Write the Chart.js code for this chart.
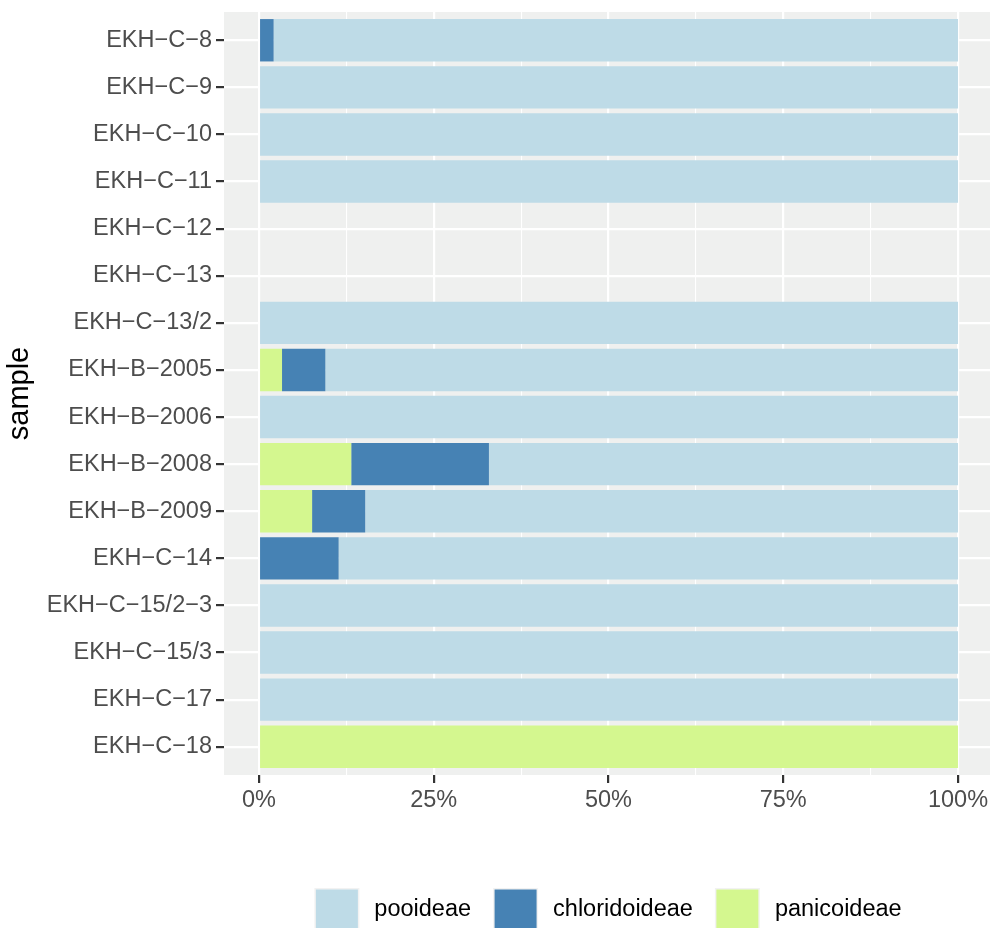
<!DOCTYPE html>
<html>
<head>
<meta charset="utf-8">
<script src="https://cdn.jsdelivr.net/npm/chart.js@4"></script>
<style>
  html, body { margin: 0; padding: 0; background: #fff; overflow: hidden; }
  #wrap { width: 990px; height: 928px; }
</style>
</head>
<body>
<div id="wrap"><canvas id="chart" width="990" height="928"></canvas></div>
<script>
// --- Data (top to bottom) ---
const samples = [
  'EKH−C−8', 'EKH−C−9', 'EKH−C−10', 'EKH−C−11', 'EKH−C−12', 'EKH−C−13',
  'EKH−C−13/2', 'EKH−B−2005', 'EKH−B−2006', 'EKH−B−2008', 'EKH−B−2009',
  'EKH−C−14', 'EKH−C−15/2−3', 'EKH−C−15/3', 'EKH−C−17', 'EKH−C−18'
];
const panicoideae   = [0, 0, 0, 0, 0, 0, 0, 3.3, 0, 13.2, 7.6, 0, 0, 0, 0, 100];
const chloridoideae = [2.1, 0, 0, 0, 0, 0, 0, 6.2, 0, 19.7, 7.6, 11.4, 0, 0, 0, 0];
const pooideae      = [97.9, 100, 100, 100, 0, 0, 100, 90.5, 100, 67.1, 84.8, 88.6, 100, 100, 100, 0];
const xTicks = [0, 12.5, 25, 37.5, 50, 62.5, 75, 87.5, 100];

const FONT = '"Liberation Sans", Arial, Helvetica, sans-serif';

function toPoints(values) {
  return values.map((v, i) => ({ x: v, y: i }));
}

// Panel background like ggplot
const panelBg = {
  id: 'panelBg',
  beforeDraw(chart) {
    const { ctx, chartArea: a } = chart;
    ctx.save();
    ctx.fillStyle = '#eff0ef';
    ctx.fillRect(a.left, a.top, a.right - a.left, a.bottom - a.top);
    ctx.restore();
  }
};

// Legend drawn at the bottom, reversed order like the reference
const bottomLegend = {
  id: 'bottomLegend',
  afterDraw(chart) {
    const ctx = chart.ctx;
    const items = chart.data.datasets.slice().reverse();
    const key = 45, gap = 15, spacing = 22;
    ctx.save();
    ctx.font = '23.5px ' + FONT;
    const widths = items.map(d => ctx.measureText(d.label).width);
    const total = widths.reduce((s, w) => s + key + gap + w, 0) + spacing * (items.length - 1);
    let x = 608 - total / 2;
    const top = 888;
    items.forEach((d, i) => {
      ctx.fillStyle = '#f2f2f2';
      ctx.fillRect(x, top, key, key);
      ctx.fillStyle = d.backgroundColor;
      ctx.fillRect(x + 1.5, top + 1.5, key - 3, key - 3);
      ctx.fillStyle = '#000';
      ctx.textBaseline = 'middle';
      ctx.textAlign = 'left';
      ctx.fillText(d.label, x + key + gap, top + 22);
      x += key + gap + widths[i] + spacing;
    });
    ctx.restore();
  }
};

new Chart(document.getElementById('chart').getContext('2d'), {
  type: 'bar',
  data: {
    datasets: [
      { label: 'panicoideae', data: toPoints(panicoideae), backgroundColor: '#d4f78f' },
      { label: 'chloridoideae', data: toPoints(chloridoideae), backgroundColor: '#4682b4' },
      { label: 'pooideae', data: toPoints(pooideae), backgroundColor: '#bedbe7' }
    ]
  },
  options: {
    indexAxis: 'y',
    responsive: false,
    animation: false,
    events: [],
    layout: { padding: { top: 12, right: 0, left: 0, bottom: 0 } },
    datasets: { bar: { categoryPercentage: 1, barPercentage: 0.9, borderWidth: 0 } },
    plugins: { legend: { display: false }, tooltip: { enabled: false } },
    scales: {
      x: {
        type: 'linear',
        stacked: true,
        min: -5,
        max: 104.58,
        afterBuildTicks: scale => { scale.ticks = xTicks.map(v => ({ value: v })); },
        afterFit: scale => { scale.height = 153; scale.paddingLeft = 0; scale.paddingRight = 0; },
        border: { display: false },
        grid: {
          color: '#ffffff',
          lineWidth: ctx => (ctx.tick && ctx.tick.value % 25 === 0 ? 2.2 : 1.1),
          tickColor: ctx => (ctx.tick && ctx.tick.value % 25 === 0 ? '#333333' : 'rgba(0,0,0,0)'),
          tickLength: 8,
          tickWidth: 2.2
        },
        ticks: {
          autoSkip: false,
          maxRotation: 0,
          padding: 3,
          color: '#4d4d4d',
          font: { family: FONT, size: 23.5 },
          callback: v => (v % 25 === 0 ? v + '%' : '')
        }
      },
      y: {
        type: 'linear',
        stacked: true,
        reverse: true,
        offset: false,
        min: -0.6,
        max: 15.6,
        afterBuildTicks: scale => { scale.ticks = samples.map((s, i) => ({ value: i })); },
        afterFit: scale => { scale.width = 224; scale.paddingTop = 0; scale.paddingBottom = 0; },
        border: { display: false },
        grid: {
          offset: false,
          color: '#ffffff',
          lineWidth: 2.2,
          tickColor: '#333333',
          tickLength: 8,
          tickWidth: 2.2
        },
        ticks: {
          autoSkip: false,
          padding: 4,
          color: '#4d4d4d',
          font: { family: FONT, size: 23.5 },
          callback: v => samples[v]
        },
        title: {
          display: true,
          text: 'sample',
          color: '#000000',
          font: { family: FONT, size: 29 },
          padding: { top: 3, bottom: 0 }
        }
      }
    }
  },
  plugins: [panelBg, bottomLegend]
});
</script>
</body>
</html>
